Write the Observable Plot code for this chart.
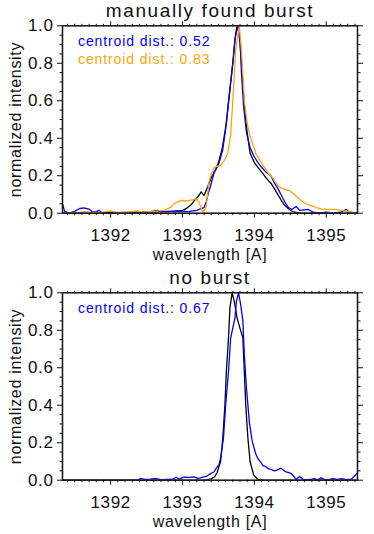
<!DOCTYPE html>
<html>
<head>
<meta charset="utf-8">
<script src="https://cdn.jsdelivr.net/npm/d3@7"></script>
<script src="https://cdn.jsdelivr.net/npm/@observablehq/plot@0.6"></script>
<style>
  html, body { margin: 0; padding: 0; background: #fff; }
  #chart svg { display: block; }
</style>
</head>
<body>
<div id="chart"></div>
<script>
// ---- data (wavelength [A], normalized intensity) ----
const burstBlack = [[1391.33,0.0],[1392.0,0.002],[1392.5,0.004],[1392.84,0.01],[1392.98,0.013],[1393.02,0.018],[1393.07,0.03],[1393.12,0.045],[1393.16,0.066],[1393.21,0.085],[1393.26,0.114],[1393.30,0.094],[1393.35,0.14],[1393.40,0.19],[1393.44,0.215],[1393.50,0.27],[1393.55,0.34],[1393.61,0.48],[1393.66,0.66],[1393.71,0.84],[1393.74,0.96],[1393.76,1.0],[1393.78,0.97],[1393.80,0.91],[1393.83,0.75],[1393.86,0.57],[1393.90,0.43],[1393.94,0.32],[1394.00,0.27],[1394.05,0.245],[1394.10,0.22],[1394.16,0.19],[1394.23,0.16],[1394.28,0.13],[1394.33,0.097],[1394.38,0.065],[1394.42,0.043],[1394.47,0.025],[1394.51,0.013],[1394.56,0.005],[1394.65,0.0],[1395.0,0.0],[1395.43,0.0]];

const burstBlue = [[1391.33,0.05],[1391.36,0.01],[1391.42,0.0],[1391.5,0.01],[1391.57,0.025],[1391.63,0.028],[1391.70,0.022],[1391.75,0.005],[1391.80,0.008],[1391.84,0.015],[1391.88,0.003],[1392.0,0.003],[1392.2,0.004],[1392.4,0.006],[1392.55,0.008],[1392.65,0.015],[1392.7,0.008],[1392.85,0.01],[1393.0,0.008],[1393.1,0.01],[1393.2,0.015],[1393.26,0.025],[1393.30,0.03],[1393.33,0.06],[1393.35,0.093],[1393.40,0.16],[1393.44,0.22],[1393.47,0.235],[1393.51,0.27],[1393.56,0.34],[1393.60,0.45],[1393.65,0.63],[1393.70,0.80],[1393.73,0.93],[1393.77,1.0],[1393.80,0.93],[1393.82,0.75],[1393.85,0.57],[1393.89,0.43],[1393.94,0.35],[1394.00,0.30],[1394.05,0.27],[1394.10,0.245],[1394.16,0.22],[1394.23,0.20],[1394.28,0.16],[1394.33,0.13],[1394.37,0.10],[1394.40,0.077],[1394.44,0.05],[1394.47,0.032],[1394.52,0.02],[1394.58,0.036],[1394.63,0.015],[1394.70,0.018],[1394.75,0.02],[1394.82,0.005],[1394.9,0.0],[1395.0,0.005],[1395.1,0.0],[1395.2,0.005],[1395.28,0.02],[1395.33,0.0],[1395.43,0.0]];

const burstOrange = [[1391.33,0.0],[1391.5,0.003],[1391.65,0.008],[1391.75,0.003],[1391.9,0.006],[1391.99,0.012],[1392.1,0.003],[1392.25,0.005],[1392.37,0.013],[1392.45,0.006],[1392.6,0.01],[1392.75,0.015],[1392.84,0.032],[1392.88,0.05],[1392.93,0.06],[1392.98,0.068],[1393.05,0.065],[1393.09,0.068],[1393.15,0.072],[1393.19,0.077],[1393.23,0.059],[1393.28,0.008],[1393.31,0.02],[1393.33,0.035],[1393.37,0.17],[1393.40,0.21],[1393.44,0.245],[1393.48,0.25],[1393.53,0.255],[1393.58,0.28],[1393.63,0.32],[1393.67,0.42],[1393.70,0.60],[1393.74,0.87],[1393.79,1.0],[1393.82,0.87],[1393.86,0.60],[1393.90,0.48],[1393.93,0.425],[1394.02,0.32],[1394.08,0.28],[1394.14,0.245],[1394.20,0.21],[1394.23,0.20],[1394.28,0.175],[1394.33,0.145],[1394.37,0.135],[1394.42,0.127],[1394.49,0.12],[1394.56,0.098],[1394.65,0.068],[1394.72,0.05],[1394.79,0.041],[1394.86,0.03],[1394.93,0.023],[1395.02,0.02],[1395.12,0.02],[1395.20,0.015],[1395.30,0.01],[1395.37,0.005],[1395.43,0.0]];

const noBurstBlack = [[1391.33,0.0],[1393.30,0.0],[1393.40,0.007],[1393.45,0.02],[1393.48,0.04],[1393.53,0.10],[1393.56,0.224],[1393.59,0.40],[1393.61,0.58],[1393.64,0.76],[1393.66,0.92],[1393.69,1.0],[1393.72,0.955],[1393.76,0.865],[1393.80,0.81],[1393.84,0.76],[1393.86,0.58],[1393.88,0.40],[1393.91,0.224],[1393.94,0.10],[1393.99,0.028],[1394.05,0.004],[1394.15,0.0],[1395.43,0.0]];

const noBurstBlue = [[1391.33,0.0],[1392.37,0.0],[1392.42,0.009],[1392.48,0.004],[1392.55,0.006],[1392.63,0.009],[1392.70,0.003],[1392.80,0.004],[1392.87,0.005],[1392.91,0.016],[1392.95,0.006],[1393.02,0.016],[1393.09,0.015],[1393.16,0.018],[1393.21,0.01],[1393.25,0.012],[1393.28,0.016],[1393.33,0.02],[1393.37,0.03],[1393.40,0.037],[1393.44,0.045],[1393.47,0.064],[1393.51,0.085],[1393.53,0.117],[1393.57,0.224],[1393.60,0.40],[1393.64,0.58],[1393.67,0.76],[1393.71,0.83],[1393.73,0.865],[1393.75,0.955],[1393.78,1.0],[1393.81,0.935],[1393.84,0.85],[1393.86,0.67],[1393.89,0.49],[1393.93,0.31],[1393.97,0.207],[1394.02,0.14],[1394.05,0.115],[1394.09,0.095],[1394.12,0.078],[1394.16,0.072],[1394.19,0.062],[1394.23,0.058],[1394.28,0.05],[1394.32,0.055],[1394.37,0.064],[1394.40,0.055],[1394.44,0.044],[1394.48,0.04],[1394.51,0.036],[1394.55,0.02],[1394.58,0.004],[1394.63,0.02],[1394.68,0.004],[1394.75,0.003],[1394.80,0.006],[1394.84,0.009],[1394.88,0.002],[1394.93,0.012],[1394.98,0.003],[1395.05,0.004],[1395.09,0.009],[1395.15,0.004],[1395.22,0.008],[1395.28,0.003],[1395.35,0.005],[1395.43,0.036]];

const titles = ["manually found burst", "no burst"];
const legendBurst = ["centroid dist.: 0.52", "centroid dist.: 0.83"];
const legendNoBurst = ["centroid dist.: 0.67"];
const xLabel = "wavelength [A]";
const yLabel = "normalized intensity";
const xMajor = [1392, 1393, 1394, 1395];
const xMinor = [1391.4,1391.5,1391.6,1391.7,1391.8,1391.9,1392.1,1392.2,1392.3,1392.4,1392.5,1392.6,1392.7,1392.8,1392.9,1393.1,1393.2,1393.3,1393.4,1393.5,1393.6,1393.7,1393.8,1393.9,1394.1,1394.2,1394.3,1394.4,1394.5,1394.6,1394.7,1394.8,1394.9,1395.1,1395.2,1395.3,1395.4];
const yMajor = [0, 0.2, 0.4, 0.6, 0.8, 1.0];
const yMinor = [0.05,0.1,0.15,0.25,0.3,0.35,0.45,0.5,0.55,0.65,0.7,0.75,0.85,0.9,0.95];

const FONT = "Liberation Sans, Arial, sans-serif";

function panel(title, series, legends) {
  const empty = () => "";
  const marks = [
    Plot.axisX({anchor: "bottom", ticks: xMajor, tickSize: 5, tickPadding: 11, tickFormat: d => String(d), label: null}),
    Plot.axisX({anchor: "bottom", ticks: xMinor, tickSize: 2.5, tickFormat: empty, label: null}),
    Plot.axisX({anchor: "top", ticks: xMajor, tickSize: 5, tickFormat: empty, label: null}),
    Plot.axisX({anchor: "top", ticks: xMinor, tickSize: 2.5, tickFormat: empty, label: null}),
    Plot.axisY({anchor: "left", ticks: yMajor, tickSize: 5, tickPadding: 4, tickFormat: d => d.toFixed(1), label: null}),
    Plot.axisY({anchor: "left", ticks: yMinor, tickSize: 2.5, tickFormat: empty, label: null}),
    Plot.axisY({anchor: "right", ticks: yMajor, tickSize: 5, tickFormat: empty, label: null}),
    Plot.axisY({anchor: "right", ticks: yMinor, tickSize: 2.5, tickFormat: empty, label: null}),
  ];
  for (const s of series) {
    marks.push(Plot.line(s.data, {x: d => d[0], y: d => d[1], stroke: s.color, strokeWidth: 1.3, clip: true}));
  }
  marks.push(Plot.frame({stroke: "#111", strokeWidth: 1.5}));
  marks.push(Plot.text([title], {frameAnchor: "top", dy: -8.6, lineAnchor: "bottom", fontSize: 19, fill: "#111"}));
  marks.push(Plot.text([xLabel], {frameAnchor: "bottom", dy: 46.6, lineAnchor: "bottom", fontSize: 16, fill: "#111"}));
  marks.push(Plot.text([yLabel], {frameAnchor: "left", dx: -42, rotate: -90, lineAnchor: "bottom", textAnchor: "middle", fontSize: 16, fill: "#111"}));
  legends.forEach((l, i) => {
    marks.push(Plot.text([l.text], {frameAnchor: "top-left", dx: 15.5, dy: 19.8 + i * 18.7, lineAnchor: "bottom", textAnchor: "start", fontSize: 14.01, fill: l.color}));
  });
  const svg = Plot.plot({
    width: 374,
    height: 267,
    marginTop: 25.3,
    marginBottom: 54.3,
    marginLeft: 62,
    marginRight: 17,
    x: {domain: [1391.33, 1395.435]},
    y: {domain: [0, 1]},
    style: {fontFamily: FONT, color: "#111", background: "#fff"},
    marks
  });
  svg.querySelectorAll('g[aria-label$="tick label"]').forEach(g => {
    g.setAttribute("font-size", "17");
    g.style.fontSize = "17px";
    g.style.letterSpacing = "0.6px";
  });
  svg.querySelectorAll('g[font-size="19"]').forEach(g => g.style.letterSpacing = "1.6px");
  svg.querySelectorAll('g[font-size="16"]').forEach(g => g.style.letterSpacing = "0.7px");
  svg.querySelectorAll('g[font-size="14.01"]').forEach(g => g.style.letterSpacing = "0.9px");
  return svg;
}

const chart = document.getElementById("chart");
chart.appendChild(panel(titles[0],
  [{data: burstBlack, color: "#000"}, {data: burstBlue, color: "#0000ff"}, {data: burstOrange, color: "#ffa500"}],
  [{text: legendBurst[0], color: "#0000ff"}, {text: legendBurst[1], color: "#ffa500"}]));
chart.appendChild(panel(titles[1],
  [{data: noBurstBlack, color: "#000"}, {data: noBurstBlue, color: "#0000ff"}],
  [{text: legendNoBurst[0], color: "#0000ff"}]));
</script>
</body>
</html>
